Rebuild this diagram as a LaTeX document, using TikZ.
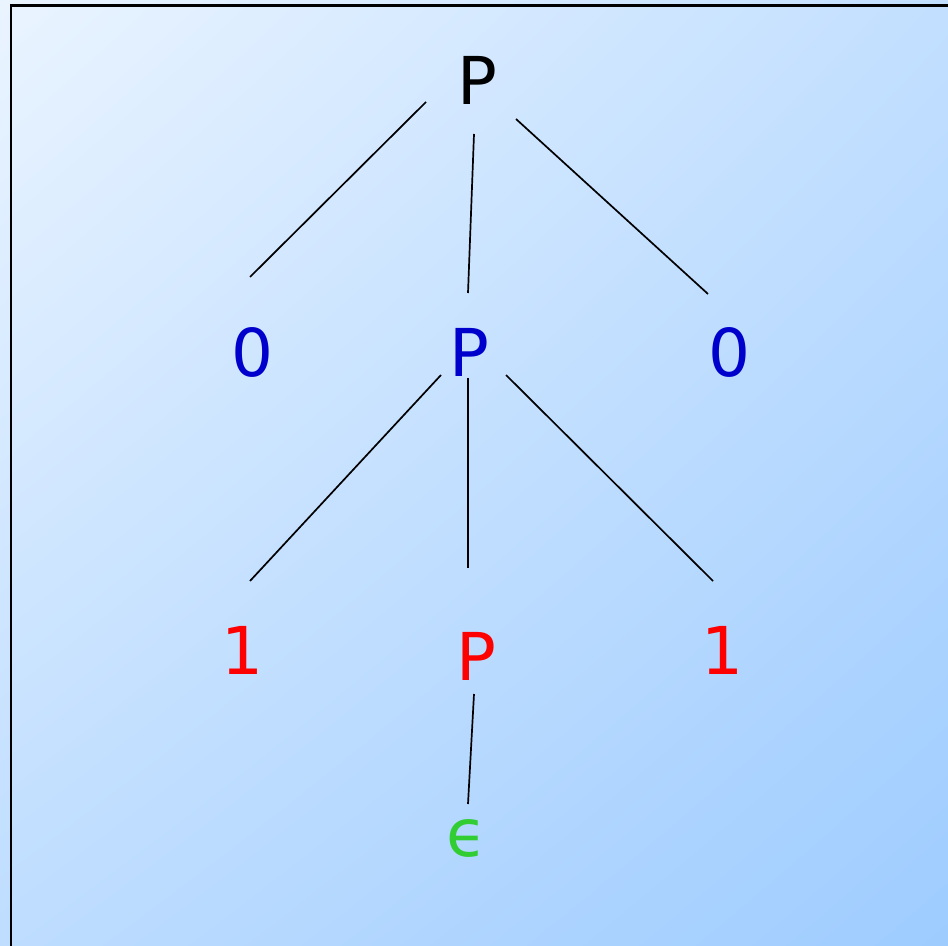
\documentclass[tikz,border=0pt]{standalone}
\usepackage{fontspec}
\setmainfont{DejaVu Sans}
\usetikzlibrary{calc,shadings}
\definecolor{bgtop}{RGB}{234,244,255}
\definecolor{bgbot}{RGB}{158,204,255}
\definecolor{symblue}{RGB}{0,0,204}
\definecolor{symgreen}{RGB}{50,205,50}
\begin{document}
\begin{tikzpicture}[x=0.5pt,y=-0.5pt,
  sym/.style={inner sep=0pt,anchor=center,font=\fontsize{33}{36}\selectfont},
  branch/.style={line width=0.85pt}]
  \useasboundingbox (0,0) rectangle (948,946);
  \shade[upper left=bgtop,lower right=bgbot,upper right=bgtop!48!bgbot,lower left=bgtop!42!bgbot] (0,0) rectangle (948,946);
  \draw[line width=1.2pt] (10.7,946) |- (948,5.7);
  % parse tree
  \node[sym] (p1) at (477,80){P};
  \node[sym,symblue] (z1) at (252,352){0};
  \node[sym,symblue] (p2) at (469,352){P};
  \node[sym,symblue] (z2) at (729,352){0};
  \node[sym,red] (o1) at (242,650){1};
  \node[sym,red] (p3) at (476,656){P};
  \node[sym,red] (o2) at (722,650){1};
  \node[sym,symgreen] (eps) at (467,838){ϵ};
  \draw[branch] ($(p1)+(-51,22)$) -- ($(z1)+(-2,-75)$);
  \draw[branch] ($(p1)+(-3,54)$) -- ($(p2)+(-1,-59)$);
  \draw[branch] ($(p1)+(39,39)$) -- ($(z2)+(-21,-58)$);
  \draw[branch] ($(p2)+(-28,23)$) -- ($(o1)+(8,-69)$);
  \draw[branch] ($(p2)+(-1,26)$) -- ($(p3)+(-8,-88)$);
  \draw[branch] ($(p2)+(37,23)$) -- ($(o2)+(-9,-69)$);
  \draw[branch] ($(p3)+(-2,38)$) -- ($(eps)+(1,-34)$);
\end{tikzpicture}
\end{document}
